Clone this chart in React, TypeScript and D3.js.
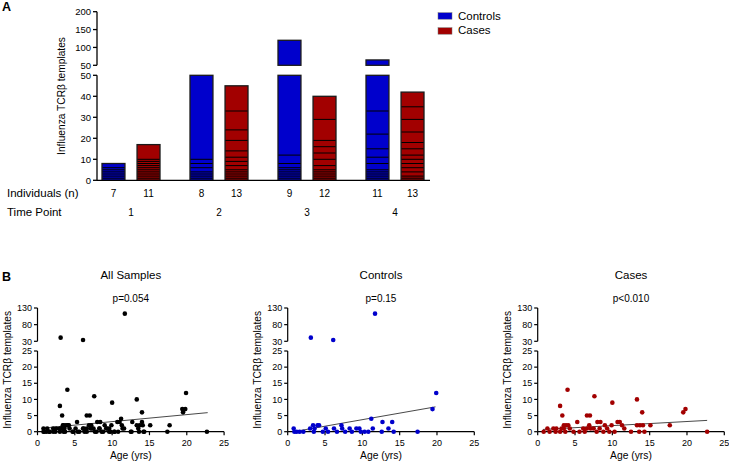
import React from "react";
import * as d3 from "d3";

// ---------- Panel A data ----------
const timePoints = ["1", "2", "3", "4"];
const controlsN = [7, 8, 9, 11];
const casesN = [11, 13, 12, 13];
// individual contributions, listed top -> bottom of each stacked bar
const controlSegments = [
  [2, 1, 1, 1, 1, 1, 1],
  [40, 2, 2, 2, 1, 1, 1, 1],
  [108, 4, 2, 1, 1, 1, 1, 1, 1],
  [32, 11, 7, 4, 3, 3, 1, 1, 1, 1, 1],
];
const caseSegments = [
  [7, 1, 1, 1, 1, 1, 1, 1, 1, 1, 1],
  [12, 9, 5, 5, 3, 2, 2, 2, 1, 1, 1, 1, 1],
  [11, 10, 3, 3, 3, 3, 2, 1, 1, 1, 1, 1],
  [7, 6, 6, 5, 3, 3, 2, 2, 2, 2, 2, 1, 1],
];
const yTicksLowerA = [0, 10, 20, 30, 40, 50];
const yTicksUpperA = [50, 100, 150, 200];
const legendLabels = ["Controls", "Cases"];

// ---------- Panel B data ----------
const controlPoints: [number, number][] = [
  [3.1, 41], [6.1, 34], [11.7, 113], [19.9, 12], [19.4, 7], [11.2, 4], [12.7, 3], [14.0, 3],
  [3.4, 2], [4.0, 2], [4.2, 2], [7.2, 2],
  [0.8, 1], [3.0, 1], [3.6, 1], [5.1, 1], [6.2, 1], [7.3, 1], [8.3, 1], [9.2, 1], [9.6, 1], [11.4, 1], [13.5, 1],
  [0.9, 0], [1.2, 0], [1.6, 0], [2.1, 0], [3.5, 0], [4.7, 0], [5.4, 0], [6.6, 0], [7.7, 0], [8.6, 0], [9.8, 0],
  [10.3, 0], [10.8, 0], [12.6, 0], [14.2, 0], [17.4, 0],
];
const casePoints: [number, number][] = [
  [4.0, 13], [7.6, 11], [13.3, 10], [10.0, 9], [3.0, 8], [19.8, 7], [19.5, 6], [14.0, 6], [3.3, 5], [6.6, 5],
  [7.0, 5], [5.3, 3], [8.0, 3], [8.4, 3], [10.7, 3], [11.0, 3],
  [3.5, 2], [3.8, 2], [4.1, 2], [6.9, 2], [9.0, 2], [9.9, 2], [11.3, 2], [13.3, 2], [13.7, 2], [14.1, 2], [15.1, 2], [17.7, 2],
  [1.3, 1], [2.1, 1], [2.5, 1], [3.2, 1], [3.5, 1], [4.3, 1], [6.1, 1], [6.6, 1], [7.1, 1], [7.5, 1], [8.3, 1], [9.3, 1], [11.6, 1],
  [0.8, 0], [1.6, 0], [2.4, 0], [3.0, 0], [3.7, 0], [4.8, 0], [5.6, 0], [6.3, 0], [7.9, 0], [8.8, 0], [9.6, 0],
  [10.3, 0], [12.5, 0], [13.6, 0], [14.3, 0], [22.7, 0],
];
const allPoints: [number, number][] = [...controlPoints, ...casePoints];
const fitAll: [number, number][] = [[0.7, 1.1], [22.8, 5.9]];
const fitControls: [number, number][] = [[0.8, 0.0], [19.8, 7.7]];
const fitCases: [number, number][] = [[0.7, 0.7], [22.7, 3.5]];
const panelTitles = ["All Samples", "Controls", "Cases"];
const pValues = ["p=0.054", "p=0.15", "p<0.010"];
const xTicksB = [0, 5, 10, 15, 20, 25];
const yTicksLowerB = [0, 5, 10, 15, 20, 25];
const yTicksUpperB = [30, 80, 130];

const BLUE = "#0000CC";
const RED = "#A20000";
const FONT = "'Liberation Sans', Arial, Helvetica, sans-serif";
const yLabel = "Influenza TCRβ templates";

export default function App() {
  // ----- Panel A scales -----
  const axA = 97;
  const yLowA = d3.scaleLinear().domain([0, 50]).range([180.3, 75.3]);
  const yUpA = d3.scaleLinear().domain([50, 200]).range([65.3, 11.7]);
  const yA = (v: number) => (v <= 50 ? yLowA(v) : yUpA(v));
  const xGroup = d3.scalePoint<string>().domain(timePoints).range([131, 395]);
  const sub = d3.scaleBand<string>().domain(["c", "k"]).range([-29, 29]).paddingInner(0.345).paddingOuter(0.0);
  const bw = sub.bandwidth();

  const renderBar = (segs: number[], tp: string, key: string, color: string) => {
    const x0 = (xGroup(tp) as number) + (sub(key) as number) + (sub.range()[0] === -29 ? 0 : 0);
    const bottomUp = [...segs].reverse();
    const cum = Array.from(d3.cumsum(bottomUp));
    const total = cum[cum.length - 1];
    const bounds = cum.slice(0, -1);
    const lowTop = Math.min(total, 50);
    return (
      <g key={key + tp}>
        <rect x={x0} y={yLowA(lowTop)} width={bw} height={yLowA(0) - yLowA(lowTop)} fill={color} />
        {total > 50 && (
          <rect x={x0} y={yUpA(total)} width={bw} height={yUpA(50) - yUpA(total)} fill={color} />
        )}
        {bounds.map((b, i) => (
          <line key={i} x1={x0} x2={x0 + bw} y1={yA(b)} y2={yA(b)} stroke="#000" strokeWidth={1} />
        ))}
        <rect x={x0} y={yLowA(lowTop)} width={bw} height={yLowA(0) - yLowA(lowTop)} fill="none" stroke="#1a1a1a" strokeWidth={1.3} />
        {total > 50 && (
          <rect x={x0} y={yUpA(total)} width={bw} height={yUpA(50) - yUpA(total)} fill="none" stroke="#1a1a1a" strokeWidth={1.3} />
        )}
      </g>
    );
  };

  // ----- Panel B -----
  const plotX0 = [37.5, 287.7, 537.7];
  const plotW = 186.6;
  const yLowB = d3.scaleLinear().domain([0, 25]).range([431.7, 351]);
  const yUpB = d3.scaleLinear().domain([30, 130]).range([341.3, 308]);
  const yB = (v: number) => (v <= 25 ? yLowB(v) : yUpB(v));
  const datasets = [allPoints, controlPoints, casePoints];
  const colors = ["#000", BLUE, RED];
  const fits = [fitAll, fitControls, fitCases];

  const renderScatter = (idx: number) => {
    const x = d3.scaleLinear().domain([0, 25]).range([plotX0[idx], plotX0[idx] + plotW]);
    const ax = plotX0[idx];
    const cx = (x(0) + x(25)) / 2;
    const line = d3
      .line<[number, number]>()
      .x((d) => x(d[0]))
      .y((d) => yLowB(d[1]));
    return (
      <g key={idx}>
        <text x={cx} y={279} textAnchor="middle" fontSize={11.5}>{panelTitles[idx]}</text>
        <text x={cx} y={302} textAnchor="middle" fontSize={10}>{pValues[idx]}</text>
        {/* y axis upper */}
        <line x1={ax} x2={ax} y1={yUpB(130)} y2={yUpB(30)} stroke="#000" strokeWidth={1.2} />
        {yTicksUpperB.map((t) => (
          <g key={"u" + t}>
            <line x1={ax - 3.5} x2={ax} y1={yUpB(t)} y2={yUpB(t)} stroke="#000" strokeWidth={1.2} />
            <text x={ax - 5.5} y={yUpB(t) + 3.2} textAnchor="end" fontSize={9}>{t}</text>
          </g>
        ))}
        {/* y axis lower */}
        <line x1={ax} x2={ax} y1={yLowB(25)} y2={yLowB(0)} stroke="#000" strokeWidth={1.2} />
        {yTicksLowerB.map((t) => (
          <g key={"l" + t}>
            <line x1={ax - 3.5} x2={ax} y1={yLowB(t)} y2={yLowB(t)} stroke="#000" strokeWidth={1.2} />
            <text x={ax - 5.5} y={yLowB(t) + 3.2} textAnchor="end" fontSize={9}>{t}</text>
          </g>
        ))}
        {/* x axis */}
        <line x1={x(0)} x2={x(25)} y1={yLowB(0)} y2={yLowB(0)} stroke="#000" strokeWidth={1.2} />
        {xTicksB.map((t) => (
          <g key={"x" + t}>
            <line x1={x(t)} x2={x(t)} y1={yLowB(0)} y2={yLowB(0) + 3.5} stroke="#000" strokeWidth={1.2} />
            <text x={x(t)} y={yLowB(0) + 14} textAnchor="middle" fontSize={9}>{t}</text>
          </g>
        ))}
        <text x={cx} y={459} textAnchor="middle" fontSize={10.3}>Age (yrs)</text>
        <text
          transform={`translate(${ax - 27},${(yUpB(130) + yLowB(0)) / 2}) rotate(-90)`}
          textAnchor="middle"
          fontSize={10.2}
        >
          {yLabel}
        </text>
        <path d={line(fits[idx]) || ""} fill="none" stroke="#333" strokeWidth={0.9} />
        {datasets[idx].map((d, i) => (
          <circle key={i} cx={x(d[0])} cy={yB(d[1])} r={2.3} fill={colors[idx]} />
        ))}
      </g>
    );
  };

  return (
    <svg
      width={729}
      height={464}
      viewBox="0 0 729 464"
      style={{ position: "absolute", left: 0, top: 0, background: "#fff" }}
      fontFamily={FONT}
    >
      <rect x={0} y={0} width={729} height={464} fill="#fff" />
      {/* Panel labels */}
      <text x={2} y={11} fontSize={12.5} fontWeight="bold">A</text>
      <text x={2} y={281} fontSize={12.5} fontWeight="bold">B</text>

      {/* Panel A axes */}
      <line x1={axA} x2={axA} y1={yUpA(200)} y2={yUpA(50)} stroke="#000" strokeWidth={1.3} />
      {yTicksUpperA.map((t) => (
        <g key={"ua" + t}>
          <line x1={axA - 4} x2={axA} y1={yUpA(t)} y2={yUpA(t)} stroke="#000" strokeWidth={1.3} />
          <text x={axA - 6} y={yUpA(t) + 3.4} textAnchor="end" fontSize={9.5}>{t}</text>
        </g>
      ))}
      <line x1={axA} x2={axA} y1={yLowA(50)} y2={yLowA(0)} stroke="#000" strokeWidth={1.3} />
      {yTicksLowerA.map((t) => (
        <g key={"la" + t}>
          <line x1={axA - 4} x2={axA} y1={yLowA(t)} y2={yLowA(t)} stroke="#000" strokeWidth={1.3} />
          <text x={axA - 6} y={yLowA(t) + 3.4} textAnchor="end" fontSize={9.5}>{t}</text>
        </g>
      ))}
      <text transform={`translate(${65},${96}) rotate(-90)`} textAnchor="middle" fontSize={10.2}>
        {yLabel}
      </text>

      {/* Bars */}
      {timePoints.map((tp, i) => renderBar(controlSegments[i], tp, "c", BLUE))}
      {timePoints.map((tp, i) => renderBar(caseSegments[i], tp, "k", RED))}
      <line x1={axA} x2={430} y1={yLowA(0)} y2={yLowA(0)} stroke="#000" strokeWidth={1.3} />

      {/* Individuals row */}
      <text x={7} y={196.5} fontSize={11.5}>Individuals (n)</text>
      {timePoints.map((tp, i) => (
        <g key={"n" + tp}>
          <text x={(xGroup(tp) as number) + (sub("c") as number) + bw / 2} y={196.5} textAnchor="middle" fontSize={10}>
            {controlsN[i]}
          </text>
          <text x={(xGroup(tp) as number) + (sub("k") as number) + bw / 2} y={196.5} textAnchor="middle" fontSize={10}>
            {casesN[i]}
          </text>
          <text x={xGroup(tp) as number} y={216} textAnchor="middle" fontSize={10}>
            {tp}
          </text>
        </g>
      ))}
      <text x={7} y={216} fontSize={11.5}>Time Point</text>

      {/* Legend */}
      {legendLabels.map((lab, i) => (
        <g key={lab}>
          <rect x={438} y={12.7 + i * 15} width={14} height={6.5} fill={i === 0 ? BLUE : RED} stroke="#777" strokeWidth={0.5} />
          <text x={458} y={20 + i * 14.3} fontSize={11.5}>{lab}</text>
        </g>
      ))}

      {/* Panel B */}
      {[0, 1, 2].map((i) => renderScatter(i))}
    </svg>
  );
}
